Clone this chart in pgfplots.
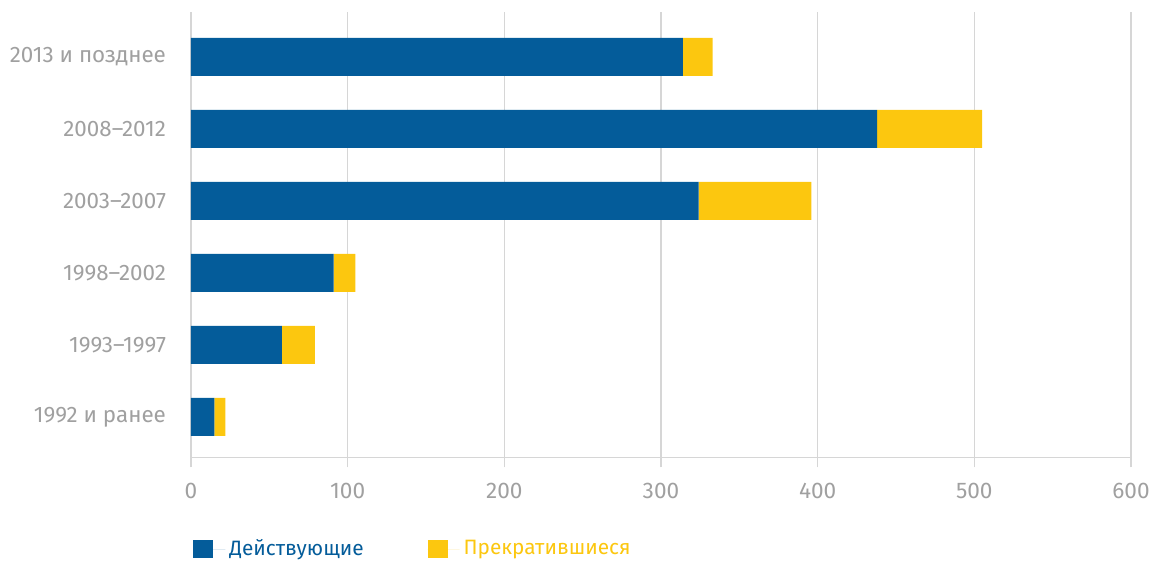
\documentclass[border=0pt]{standalone}
\usepackage{pgfplots}
\pgfplotsset{compat=1.18}
\usepackage{fontspec}
\setmainfont{Fira Sans}
\definecolor{barblue}{HTML}{045C9A}
\definecolor{baryellow}{HTML}{FCC70F}
\definecolor{lblgray}{HTML}{A0A0A0}
\definecolor{gridgray}{HTML}{D6D6D6}
\begin{document}
\begin{tikzpicture}
\useasboundingbox (0pt,0pt) rectangle (576pt,280.5pt);
\begin{axis}[
  at={(95.5pt,51.85pt)}, anchor=south west,
  scale only axis, width=470pt, height=222.65pt,
  xbar stacked, bar width=19pt,
  xmin=0, xmax=600, ymin=-0.56, ymax=5.625,
  xtick={0,100,...,600},
  ytick={0,...,5},
  yticklabels={1992 и ранее,1993–1997,1998–2002,2003–2007,2008–2012,2013 и позднее},
  axis x line*=bottom, axis y line*=left,
  axis line style={gridgray, line width=0.7pt},
  xmajorgrids, major grid style={gridgray, line width=0.7pt},
  x tick style={gridgray, line width=0.7pt},
  y tick style={draw=none},
  tick align=outside,
  major tick length=5pt,
  /pgf/number format/assume math mode=true,
  xticklabel style={lblgray, font=\fontsize{11.3}{13}\selectfont, yshift=-4.5pt},
  yticklabel style={lblgray, font=\fontsize{11.2}{13}\selectfont, xshift=-4pt},
  legend style={at={(rel axis cs:0,0)}, anchor=west, xshift=1pt, yshift=-46pt,
    draw=none, inner sep=0pt, font=\fontsize{10.4}{12}\selectfont,
    legend columns=2, /tikz/every even column/.append style={column sep=30pt}},
  legend image code/.code={\fill[#1] (0pt,-4.5pt) rectangle (10pt,4.5pt); \path (0pt,0pt) -- (16pt,0pt);},
]
\addplot[fill=barblue, draw=none] coordinates {(15,0) (58,1) (91,2) (324,3) (438,4) (314,5)};
\addplot[fill=baryellow, draw=none] coordinates {(7,0) (21,1) (14,2) (72,3) (67,4) (19,5)};
\addlegendentry{\textcolor{barblue}{Действующие}}
\addlegendentry{\textcolor{baryellow}{Прекратившиеся}}
\end{axis}
\end{tikzpicture}
\end{document}
